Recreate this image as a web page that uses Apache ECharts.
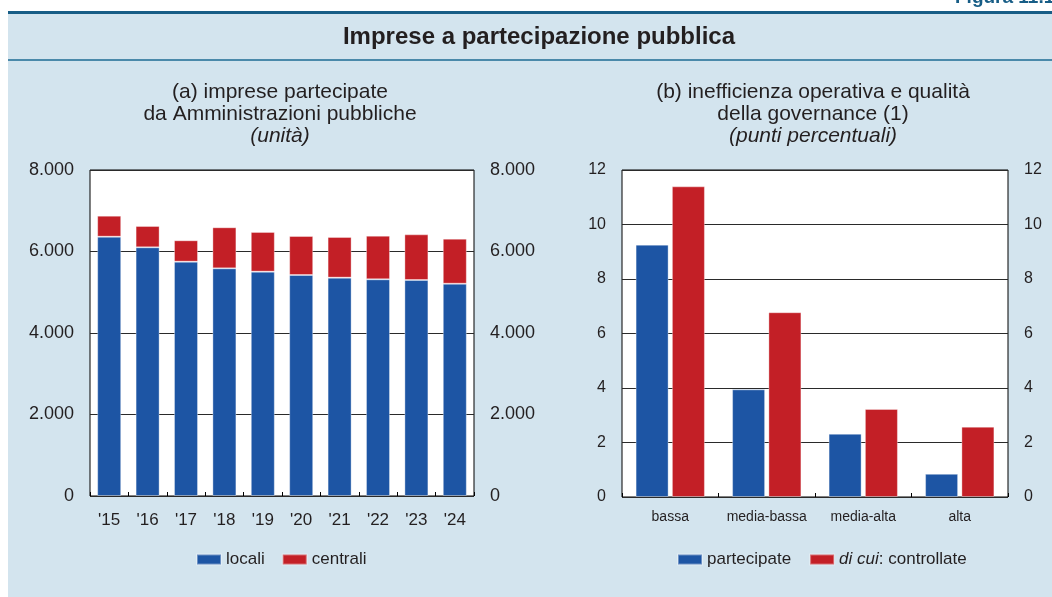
<!DOCTYPE html>
<html>
<head>
<meta charset="utf-8">
<script src="https://cdn.jsdelivr.net/npm/echarts@6/dist/echarts.min.js"></script>
<style>
  html, body { margin: 0; padding: 0; background: #ffffff; }
  #chart { width: 1052px; height: 597px; }
</style>
</head>
<body>
<div id="chart"></div>
<script>
// Panel (a): firms with public-administration holdings, by year (units)
const years = ["'15", "'16", "'17", "'18", "'19", "'20", "'21", "'22", "'23", "'24"];
const locali = [6363, 6103, 5750, 5587, 5505, 5423, 5358, 5317, 5300, 5210];
const centrali = [515, 523, 525, 1007, 974, 957, 998, 1071, 1121, 1105];
const ticksA = [0, 2000, 4000, 6000, 8000];

// Panel (b): operating inefficiency by governance quality (percentage points)
const governance = ['bassa', 'media-bassa', 'media-alta', 'alta'];
const partecipate = [9.26, 3.95, 2.32, 0.85];
const controllate = [11.4, 6.78, 3.23, 2.58];
const ticksB = [0, 2, 4, 6, 8, 10, 12];

const BLUE = '#1d55a4';
const RED = '#c31f26';
const PANEL = '#d3e4ee';
const TEXT = '#231f20';
const FONT = '"Liberation Sans", Arial, Helvetica, sans-serif';

function thousands(v) {
  return String(v).replace(/\B(?=(\d{3})+(?!\d))/g, '.');
}

function yAxisFor(gridIndex, position, ticks, fmt, withGrid, size) {
  return {
    type: 'value',
    gridIndex: gridIndex,
    position: position,
    min: ticks[0],
    max: ticks[ticks.length - 1],
    interval: ticks[1] - ticks[0],
    axisLine: { show: false },
    axisTick: { show: false },
    axisLabel: {
      show: true,
      color: TEXT,
      fontFamily: FONT,
      fontSize: size,
      margin: 16,
      formatter: fmt
    },
    splitLine: { show: withGrid, lineStyle: { color: '#2a2a2a', width: 1 } }
  };
}

function xAxisFor(gridIndex, data, size, margin) {
  return {
    type: 'category',
    gridIndex: gridIndex,
    data: data,
    axisLine: { show: false },
    axisTick: { show: true, inside: true, length: 4, lineStyle: { color: '#000', width: 1 } },
    axisLabel: { color: TEXT, fontFamily: FONT, fontSize: size, margin: margin, interval: 0 },
    splitLine: { show: false }
  };
}

const subtitleStyle = {
  color: TEXT, fontFamily: FONT, fontSize: 21, fontWeight: 'normal', lineHeight: 22,
  rich: { i: { fontStyle: 'italic', fontFamily: FONT, fontSize: 21, lineHeight: 22, color: TEXT } }
};

const chart = echarts.init(document.getElementById('chart'), null, { renderer: 'canvas' });

chart.setOption({
  backgroundColor: '#ffffff',
  animation: false,
  graphic: [
    { type: 'rect', z: -10, shape: { x: 8, y: 12, width: 1044, height: 585 }, style: { fill: PANEL } },
    { type: 'rect', z: -9, shape: { x: 8, y: 11, width: 1044, height: 3 }, style: { fill: '#175d86' } },
    { type: 'rect', z: -9, shape: { x: 8, y: 59, width: 1044, height: 2 }, style: { fill: '#4a89aa' } },
    {
      type: 'text', x: 955, y: 7, z: 5,
      style: { text: 'Figura 11.1', fill: '#175d86', font: 'bold 19px ' + FONT, textVerticalAlign: 'bottom', textAlign: 'left' }
    },
    {
      type: 'text', x: 539, y: 37, z: 5,
      style: { text: 'Imprese a partecipazione pubblica', fill: TEXT, font: 'bold 24px ' + FONT, textAlign: 'center', textVerticalAlign: 'middle' }
    }
  ],
  title: [
    {
      text: '(a) imprese partecipate\nda Amministrazioni pubbliche\n{i|(unità)}',
      left: 280, top: 81, textAlign: 'center', padding: 0,
      textStyle: subtitleStyle
    },
    {
      text: '(b) inefficienza operativa e qualità\ndella governance (1)\n{i|(punti percentuali)}',
      left: 813, top: 81, textAlign: 'center', padding: 0,
      textStyle: subtitleStyle
    }
  ],
  legend: [
    {
      data: ['locali', 'centrali'],
      left: 196, top: 551, padding: 0,
      itemWidth: 24, itemHeight: 10, itemGap: 17,
      icon: 'rect',
      textStyle: { color: TEXT, fontFamily: FONT, fontSize: 17 }
    },
    {
      data: ['partecipate', 'controllate'],
      left: 677, top: 551, padding: 0,
      itemWidth: 24, itemHeight: 10, itemGap: 18,
      icon: 'rect',
      formatter: function (name) { return name === 'controllate' ? '{i|di cui}: controllate' : name; },
      textStyle: {
        color: TEXT, fontFamily: FONT, fontSize: 17,
        rich: { i: { fontStyle: 'italic', fontFamily: FONT, fontSize: 17, color: TEXT } }
      }
    }
  ],
  grid: [
    { left: 90, top: 170, width: 384, height: 326, show: true, borderColor: '#000', borderWidth: 1, backgroundColor: '#ffffff' },
    { left: 622, top: 170, width: 386, height: 327, show: true, borderColor: '#000', borderWidth: 1, backgroundColor: '#ffffff' }
  ],
  xAxis: [
    xAxisFor(0, years, 17, 16),
    xAxisFor(1, governance, 14, 13)
  ],
  yAxis: [
    yAxisFor(0, 'left', ticksA, thousands, true, 18),
    yAxisFor(0, 'right', ticksA, thousands, false, 18),
    yAxisFor(1, 'left', ticksB, null, true, 16),
    yAxisFor(1, 'right', ticksB, null, false, 16)
  ],
  series: [
    {
      name: 'locali', type: 'bar', stack: 'a', xAxisIndex: 0, yAxisIndex: 0,
      data: locali, barWidth: 24, itemStyle: { color: BLUE, borderColor: 'rgba(255,255,255,0.35)', borderWidth: 1 }
    },
    {
      name: 'centrali', type: 'bar', stack: 'a', xAxisIndex: 0, yAxisIndex: 0,
      data: centrali, barWidth: 24, itemStyle: { color: RED, borderColor: 'rgba(255,255,255,0.35)', borderWidth: 1 }
    },
    {
      name: 'partecipate', type: 'bar', xAxisIndex: 1, yAxisIndex: 2,
      data: partecipate, barWidth: 33, barGap: '10%', itemStyle: { color: BLUE, borderColor: 'rgba(255,255,255,0.35)', borderWidth: 1 }
    },
    {
      name: 'controllate', type: 'bar', xAxisIndex: 1, yAxisIndex: 2,
      data: controllate, barWidth: 33, barGap: '10%', itemStyle: { color: RED, borderColor: 'rgba(255,255,255,0.35)', borderWidth: 1 }
    }
  ]
});
</script>
</body>
</html>
